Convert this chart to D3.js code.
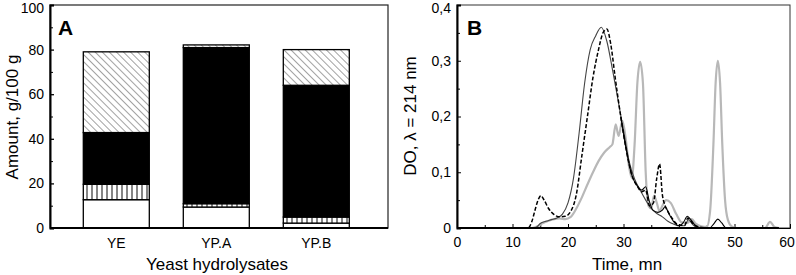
<!DOCTYPE html>
<html><head><meta charset="utf-8">
<script src="https://d3js.org/d3.v7.min.js"></script>
<style>body{margin:0;background:#fff}svg{display:block}text{font-family:Arial,"Liberation Sans",sans-serif}</style>
</head><body><svg id="c" width="796" height="275"></svg>
<script>
// ---------- Panel A data ----------
const categories = ["YE", "YP.A", "YP.B"];
const seriesNames = ["white", "vertical", "black", "diagonal"];
const whiteVals = [12.7, 9.4, 2.2];
const verticalVals = [6.9, 1.5, 2.7];
const blackVals = [23.2, 70.0, 59.1];
const diagonalVals = [36.2, 1.2, 16.0];
const yTicksA = [0, 20, 40, 60, 80, 100];

// ---------- Panel B data ----------
const timeTicks = [0, 10, 20, 30, 40, 50, 60];
const doTicks = [0, 0.1, 0.2, 0.3, 0.4];
const doTickLabels = ["0", "0,1", "0,2", "0,3", "0,4"];
const solidT = [0, 14, 14.5, 15, 16, 17, 18, 19, 20, 21, 22, 23, 24, 25, 26, 27, 28, 29, 30, 31, 32, 33, 34, 35, 36, 37, 38, 39, 40, 41, 41.7, 42.5, 43.5, 58];
const solidV = [0, 0, 0.003, 0.008, 0.012, 0.015, 0.018, 0.025, 0.045, 0.09, 0.17, 0.26, 0.32, 0.345, 0.36, 0.335, 0.285, 0.23, 0.175, 0.12, 0.088, 0.068, 0.05, 0.035, 0.026, 0.02, 0.012, 0.007, 0.004, 0.004, 0.015, 0.006, 0, 0];
const dashedT = [0, 12.8, 13.5, 14, 14.6, 15.1, 15.7, 16.5, 17.5, 18.5, 19.5, 20.5, 21.5, 22.5, 23.5, 24.5, 25.5, 26.3, 27, 27.7, 28.5, 29.5, 30.5, 31.5, 32.5, 33.3, 34, 34.7, 35.4, 36, 36.5, 37, 37.5, 38, 39, 40, 41, 41.6, 42.5, 43.5, 45];
const dashedV = [0, 0, 0.012, 0.03, 0.05, 0.058, 0.05, 0.035, 0.024, 0.02, 0.021, 0.03, 0.06, 0.13, 0.2, 0.27, 0.32, 0.35, 0.357, 0.33, 0.27, 0.2, 0.14, 0.095, 0.075, 0.065, 0.068, 0.04, 0.045, 0.09, 0.115, 0.06, 0.04, 0.03, 0.014, 0.005, 0.005, 0.018, 0.008, 0.002, 0];
const grayT = [0, 13.5, 14.5, 15.5, 16.5, 17.5, 18.5, 19.5, 20.5, 21.5, 22.5, 23.5, 24.5, 25.5, 26.5, 27.5, 28, 28.6, 29.1, 29.8, 30.4, 31, 31.5, 32, 32.5, 33, 33.5, 34, 34.5, 35, 35.5, 36, 36.5, 37, 37.7, 38.5, 39.5, 40.5, 41.5, 42.3, 43, 44, 45, 45.6, 46.2, 46.6, 47, 47.4, 47.8, 48.3, 48.8, 49.5, 50.5, 55.5, 56.4, 57.2, 58];
const grayV = [0, 0, 0.003, 0.009, 0.013, 0.016, 0.017, 0.016, 0.02, 0.035, 0.055, 0.078, 0.1, 0.12, 0.135, 0.145, 0.15, 0.186, 0.165, 0.192, 0.16, 0.11, 0.09, 0.15, 0.26, 0.298, 0.26, 0.1, 0.04, 0.035, 0.058, 0.045, 0.03, 0.04, 0.05, 0.045, 0.025, 0.01, 0.009, 0.016, 0.008, 0.003, 0.002, 0.03, 0.15, 0.26, 0.3, 0.26, 0.15, 0.05, 0.015, 0.003, 0, 0, 0.011, 0.002, 0];
const blackT = [29.5, 30.5, 31.5, 32.5, 33.3, 34, 34.6, 35.3, 36.2, 37, 37.5, 38.2, 39, 40, 40.8, 41.5, 42.2, 43, 44, 45.5, 46.3, 47, 47.7, 48.5, 50, 58];
const blackV = [0.2, 0.14, 0.095, 0.075, 0.068, 0.074, 0.05, 0.032, 0.028, 0.032, 0.038, 0.025, 0.012, 0.004, 0.01, 0.021, 0.014, 0.004, 0, 0, 0.008, 0.016, 0.009, 0, 0, 0];

const svg = d3.select("#c");

// ---------- patterns ----------
const defs = svg.append("defs");
const pd = defs.append("pattern").attr("id", "diag").attr("patternUnits", "userSpaceOnUse")
  .attr("width", 5).attr("height", 5).attr("patternTransform", "rotate(-45)");
pd.append("rect").attr("width", 5).attr("height", 5).attr("fill", "#fff");
pd.append("line").attr("x1", 0).attr("y1", 0).attr("x2", 0).attr("y2", 5).attr("stroke", "#555").attr("stroke-width", 1.1);
const pv = defs.append("pattern").attr("id", "vert").attr("patternUnits", "userSpaceOnUse")
  .attr("width", 5).attr("height", 5);
pv.append("rect").attr("width", 5).attr("height", 5).attr("fill", "#fff");
pv.append("line").attr("x1", 2).attr("y1", 0).attr("x2", 2).attr("y2", 5).attr("stroke", "#333").attr("stroke-width", 1.2);
const fills = {white: "#fff", vertical: "url(#vert)", black: "#000", diagonal: "url(#diag)"};

// ---------- Panel A ----------
const A = {l: 50, r: 388, t: 5, b: 228};
const x = d3.scaleBand().domain(categories).range([66.3, 366.3]).paddingInner(0.34).paddingOuter(0.17);
const y = d3.scaleLinear().domain([0, 100]).range([A.b, A.t]);
const rows = categories.map((c, i) => ({cat: c, white: whiteVals[i], vertical: verticalVals[i], black: blackVals[i], diagonal: diagonalVals[i]}));
const stack = d3.stack().keys(seriesNames)(rows);
const gA = svg.append("g");
gA.append("rect").attr("x", A.l).attr("y", A.t).attr("width", A.r - A.l).attr("height", A.b - A.t)
  .attr("fill", "none").attr("stroke", "#222").attr("stroke-width", 1.2);
stack.forEach(s => {
  gA.selectAll(null).data(s).join("rect")
    .attr("x", d => x(d.data.cat)).attr("width", x.bandwidth())
    .attr("y", d => y(d[1])).attr("height", d => y(d[0]) - y(d[1]))
    .attr("fill", fills[s.key]).attr("stroke", "#000").attr("stroke-width", 1.3);
});
// y axis
const axA = d3.axisLeft(y).tickValues(yTicksA).tickSize(-4).tickPadding(6).tickFormat(d3.format("d"));
const gyA = gA.append("g").attr("transform", `translate(${A.l},0)`).call(axA);
gyA.select(".domain").attr("stroke-width", 2);
gyA.selectAll("text").attr("font-size", 14).attr("fill", "#000");
gyA.selectAll(".tick").filter(d => d === 100).select("text").attr("dy", "0.5em");
gyA.selectAll(".tick line").attr("stroke-width", 1.3);
const minorA = d3.axisLeft(y).tickValues([10, 30, 50, 70, 90]).tickSize(-3).tickFormat("");
gA.append("g").attr("transform", `translate(${A.l},0)`).call(minorA).select(".domain").remove();
// x axis
const gxA = gA.append("g").attr("transform", `translate(0,${A.b})`).call(d3.axisBottom(x).tickSize(0).tickPadding(10));
gxA.select(".domain").attr("d", `M${A.l},0H${A.r}`).attr("stroke-width", 2);
gxA.selectAll("text").attr("font-size", 14).attr("fill", "#000");
gA.append("text").attr("x", 217).attr("y", 270).attr("text-anchor", "middle").attr("font-size", 17).text("Yeast hydrolysates");
gA.append("text").attr("transform", "translate(18,117) rotate(-90)").attr("text-anchor", "middle").attr("font-size", 17).text("Amount, g/100 g");
gA.append("text").attr("x", 58).attr("y", 35).attr("font-size", 21).attr("font-weight", "bold").text("A");

// ---------- Panel B ----------
const B = {l: 457, r: 790, t: 5, b: 228};
const xt = d3.scaleLinear().domain([0, 60]).range([B.l, B.r]);
const yd = d3.scaleLinear().domain([0, 0.4]).range([B.b, B.t]);
const gB = svg.append("g");
gB.append("rect").attr("x", B.l).attr("y", B.t).attr("width", B.r - B.l).attr("height", B.b - B.t)
  .attr("fill", "none").attr("stroke", "#333").attr("stroke-width", 1);
const axB = d3.axisLeft(yd).tickValues(doTicks).tickSize(-4).tickPadding(6).tickFormat((d, i) => doTickLabels[i]);
const gyB = gB.append("g").attr("transform", `translate(${B.l},0)`).call(axB);
gyB.select(".domain").attr("stroke-width", 2);
gyB.selectAll("text").attr("font-size", 14).attr("fill", "#000");
gyB.selectAll(".tick").filter(d => d === 0.4).select("text").attr("dy", "0.5em");
gB.append("g").attr("transform", `translate(${B.l},0)`).call(d3.axisLeft(yd).tickValues([0.05, 0.15, 0.25, 0.35]).tickSize(-3).tickFormat("")).select(".domain").remove();
const gxB = gB.append("g").attr("transform", `translate(0,${B.b})`).call(d3.axisBottom(xt).tickValues(timeTicks).tickSize(-4).tickPadding(9));
gxB.select(".domain").attr("stroke-width", 1);
gxB.selectAll("text").attr("font-size", 14).attr("fill", "#000");
gxB.selectAll(".tick").filter(d => d === 60).select("text").attr("text-anchor", "end").attr("dx", "0.3em");
gB.append("g").attr("transform", `translate(0,${B.b})`).call(d3.axisBottom(xt).tickValues([5, 15, 25, 35, 45, 55]).tickSize(-3).tickFormat("")).select(".domain").remove();

const line = d3.line().x(d => xt(d[0])).y(d => yd(d[1])).curve(d3.curveMonotoneX);
const zip = (T, V) => T.map((t, i) => [t, V[i]]);
gB.append("path").attr("d", line(zip(grayT, grayV))).attr("fill", "none").attr("stroke", "#b8b8b8").attr("stroke-width", 2.2);
gB.append("path").attr("d", line(zip(solidT, solidV))).attr("fill", "none").attr("stroke", "#444").attr("stroke-width", 1.1);
gB.append("path").attr("d", line(zip(blackT, blackV))).attr("fill", "none").attr("stroke", "#000").attr("stroke-width", 1.1);
gB.append("path").attr("d", line(zip(dashedT, dashedV))).attr("fill", "none").attr("stroke", "#000").attr("stroke-width", 1.5).attr("stroke-dasharray", "4,2");
// baseline
gB.append("line").attr("x1", xt(0)).attr("x2", xt(58)).attr("y1", B.b).attr("y2", B.b).attr("stroke", "#000").attr("stroke-width", 2);

gB.append("text").attr("x", 627).attr("y", 270).attr("text-anchor", "middle").attr("font-size", 17).text("Time, mn");
gB.append("text").attr("transform", "translate(416,116) rotate(-90)").attr("text-anchor", "middle").attr("font-size", 17).text("DO, λ = 214 nm");
gB.append("text").attr("x", 467).attr("y", 35).attr("font-size", 21).attr("font-weight", "bold").text("B");
</script></body></html>
